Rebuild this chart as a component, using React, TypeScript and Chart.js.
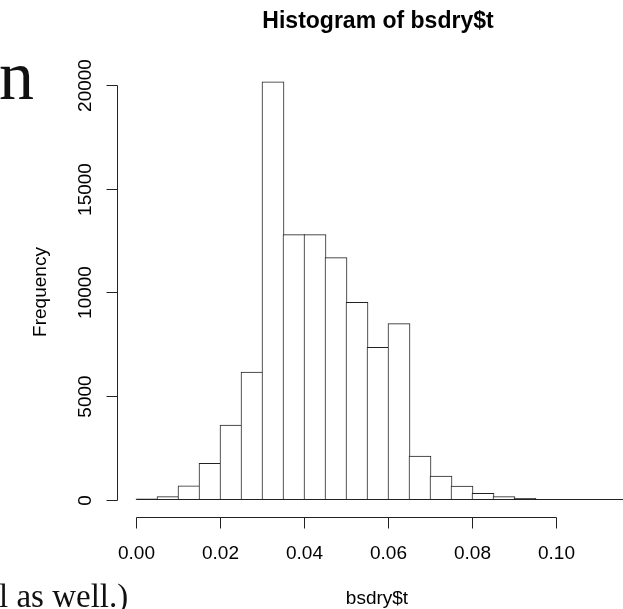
import React, { useEffect, useRef } from "react";
import { Chart, registerables } from "chart.js";

Chart.register(...registerables);

// Histogram bins (left break of each bin) and their frequencies
const binStarts = [
  0, 0.005, 0.01, 0.015, 0.02, 0.025, 0.03, 0.035, 0.04, 0.045, 0.05, 0.055,
  0.06, 0.065, 0.07, 0.075, 0.08, 0.085, 0.09, 0.095, 0.1, 0.105, 0.11, 0.115,
];
const counts = [
  60, 160, 680, 1770, 3610, 6170, 20150, 12790, 12790, 11680, 9530, 7360, 8500,
  2120, 1150, 670, 320, 160, 80, 0, 0, 0, 0, 0,
];
const xTickValues = [0, 0.02, 0.04, 0.06, 0.08, 0.1];
const yTickValues = [0, 5000, 10000, 15000, 20000];
const chartTitle = "Histogram of bsdry$t";
const xAxisTitle = "bsdry$t";
const yAxisTitle = "Frequency";

const SANS = "'Liberation Sans', Arial, Helvetica, sans-serif";
const SERIF = "'Liberation Serif', 'Times New Roman', serif";

const binWidth = binStarts[1] - binStarts[0];
const lastBreak = binStarts[binStarts.length - 1] + binWidth;

const rStylePlugin = {
  id: "rStyle",
  afterDraw(chart: any) {
    const { ctx, chartArea } = chart;
    const x = chart.scales.x;
    const y = chart.scales.y;
    ctx.save();
    ctx.strokeStyle = "#222";
    ctx.fillStyle = "#000";
    ctx.lineWidth = 1;

    // baseline of the histogram rectangles
    const yZero = Math.round(y.getPixelForValue(0)) - 0.5;
    ctx.beginPath();
    ctx.moveTo(x.getPixelForValue(binStarts[0]), yZero);
    ctx.lineTo(x.getPixelForValue(lastBreak), yZero);
    ctx.stroke();

    // y axis (detached, R style)
    const axX = chartArea.left + 1.5;
    const yTop = Math.round(y.getPixelForValue(yTickValues[yTickValues.length - 1])) + 0.5;
    const yBot = Math.round(y.getPixelForValue(yTickValues[0])) + 0.5;
    ctx.beginPath();
    ctx.moveTo(axX, yTop);
    ctx.lineTo(axX, yBot);
    ctx.stroke();
    ctx.font = `19px ${SANS}`;
    ctx.textAlign = "center";
    ctx.textBaseline = "alphabetic";
    yTickValues.forEach((v) => {
      const py = Math.round(y.getPixelForValue(v)) + 0.5;
      ctx.beginPath();
      ctx.moveTo(axX - 11, py);
      ctx.lineTo(axX, py);
      ctx.stroke();
      ctx.save();
      ctx.translate(axX - 27, py);
      ctx.rotate(-Math.PI / 2);
      ctx.fillText(String(v), 0, 0);
      ctx.restore();
    });

    // x axis (detached, R style)
    const axY = chartArea.bottom + 17.5;
    ctx.beginPath();
    ctx.moveTo(x.getPixelForValue(xTickValues[0]), axY);
    ctx.lineTo(x.getPixelForValue(xTickValues[xTickValues.length - 1]), axY);
    ctx.stroke();
    xTickValues.forEach((v) => {
      const px = Math.round(x.getPixelForValue(v) - 0.5) + 0.5;
      ctx.beginPath();
      ctx.moveTo(px, axY);
      ctx.lineTo(px, axY + 11);
      ctx.stroke();
      ctx.fillText(v.toFixed(2), px, axY + 41);
    });

    // axis titles
    ctx.fillText(xAxisTitle, 377, 604);
    ctx.save();
    ctx.translate(46, 292);
    ctx.rotate(-Math.PI / 2);
    ctx.fillText(yAxisTitle, 0, 0);
    ctx.restore();

    // main title
    ctx.font = `bold 23px ${SANS}`;
    ctx.fillText(chartTitle, 378, 28);
    ctx.restore();
  },
};

export default function App() {
  const canvasRef = useRef<HTMLCanvasElement | null>(null);

  useEffect(() => {
    const canvas = canvasRef.current;
    if (!canvas) return;
    const chart = new Chart(canvas, {
      type: "bar",
      data: {
        datasets: [
          {
            data: binStarts.map((b, i) => ({ x: b + binWidth / 2, y: counts[i] })),
            backgroundColor: "#ffffff",
            borderColor: "#222",
            borderWidth: 1,
            barThickness: 22,
          },
        ],
      },
      options: {
        animation: false,
        responsive: false,
        devicePixelRatio: 1,
        layout: { padding: { left: 116, right: 0, top: 40, bottom: 109 } },
        plugins: {
          legend: { display: false },
          title: { display: false },
          tooltip: { enabled: false },
        },
        scales: {
          x: {
            type: "linear",
            display: false,
            offset: false,
            min: -0.0048809524,
            max: 0.1158333,
          },
          y: {
            type: "linear",
            display: false,
            min: 0,
            max: 22168.67,
          },
        },
      },
      plugins: [rStylePlugin],
    });
    return () => chart.destroy();
  }, []);

  return (
    <div
      style={{
        position: "fixed",
        left: 0,
        top: 0,
        width: 623,
        height: 609,
        overflow: "hidden",
        background: "#fff",
      }}
    >
      <canvas
        ref={canvasRef}
        width={623}
        height={609}
        style={{ position: "absolute", left: 0, top: 0, width: 623, height: 609 }}
      />
      <div
        style={{
          position: "absolute",
          left: -1,
          top: 41,
          fontFamily: SERIF,
          fontSize: 70,
          lineHeight: "70px",
          color: "#111",
          whiteSpace: "nowrap",
        }}
      >
        n
      </div>
      <div
        style={{
          position: "absolute",
          left: -1,
          top: 580,
          fontFamily: SERIF,
          fontSize: 33,
          lineHeight: "33px",
          color: "#111",
          whiteSpace: "nowrap",
        }}
      >
        l as well.)
      </div>
    </div>
  );
}
